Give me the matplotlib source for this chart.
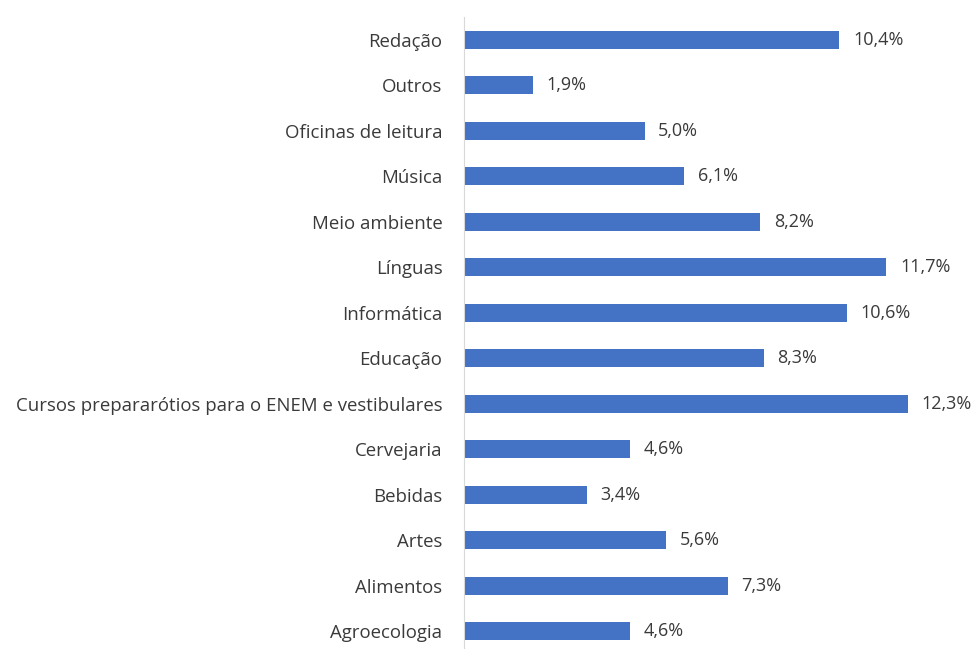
import matplotlib.pyplot as plt

categories = ['Agroecologia', 'Alimentos', 'Artes', 'Bebidas', 'Cervejaria',
              'Cursos prepararótios para o ENEM e vestibulares', 'Educação',
              'Informática', 'Línguas', 'Meio ambiente', 'Música',
              'Oficinas de leitura', 'Outros', 'Redação']
values = [4.6, 7.3, 5.6, 3.4, 4.6, 12.3, 8.3, 10.6, 11.7, 8.2, 6.1, 5.0, 1.9, 10.4]
value_labels = [f'{v:.1f}%'.replace('.', ',') for v in values]

plt.rcParams['font.family'] = ['Open Sans', 'DejaVu Sans']

fig = plt.figure(figsize=(9.77, 6.49), dpi=100)
ax = fig.add_axes([464 / 977, 0.0, 513 / 977, 632 / 649])

pos = list(range(len(categories)))
ax.barh(pos, values, height=0.385, color='#4472C4')
for p, v, lab in zip(pos, values, value_labels):
    ax.text(v + 0.38, p, lab, va='center', ha='left', fontsize=13, color='#3a3a3a')

ax.set_xlim(0, 513 / 36.1)
ax.set_ylim(13.5 - 632 / 45.5, 13.5)
ax.set_yticks(pos)
ax.set_yticklabels(categories, fontsize=13.4, color='#3a3a3a')
ax.tick_params(axis='y', length=0, pad=15.5)
ax.set_xticks([])
for s in ['top', 'right', 'bottom']:
    ax.spines[s].set_visible(False)
ax.spines['left'].set_color('#d9d9d9')

fig.savefig('out.png', dpi=100)
